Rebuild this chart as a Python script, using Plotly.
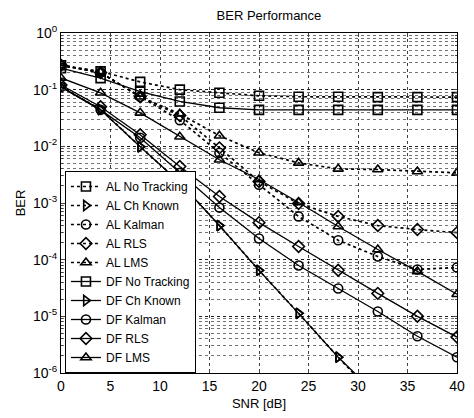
import plotly.graph_objects as go

snr = [0, 4, 8, 12, 16, 20, 24, 28, 32, 36, 40]

al_no_tracking = [0.27, 0.21, 0.137, 0.10, 0.088, 0.078, 0.075, 0.075, 0.074, 0.074, 0.074]
al_ch_known = [0.112, 0.045, 0.0098, 0.0023, 4.0e-4, 6.5e-5, 1.13e-5, 1.9e-6, 3.5e-7, None, None]
al_kalman = [0.27, 0.20, 0.075, 0.029, 0.0077, 0.0021, 5.8e-4, 2.2e-4, 1.14e-4, 6.7e-5, 7.3e-5]
al_rls = [0.27, 0.20, 0.075, 0.035, 0.0094, 0.0024, 9.8e-4, 5.8e-4, 4.0e-4, 3.4e-4, 3.0e-4]
al_lms = [0.27, 0.20, 0.075, 0.0375, 0.0154, 0.0077, 0.0051, 0.0040, 0.0039, 0.0036, 0.0034]

df_no_tracking = [0.24, 0.16, 0.092, 0.062, 0.048, 0.044, 0.044, 0.044, 0.044, 0.044, 0.044]
df_ch_known = [0.112, 0.044, 0.0098, 0.0023, 4.0e-4, 6.46e-5, 1.13e-5, 1.9e-6, 4.0e-7, None, None]
df_kalman = [0.112, 0.044, 0.0142, 0.0034, 8.3e-4, 2.36e-4, 7.9e-5, 3.1e-5, 1.22e-5, 4.45e-6, 1.9e-6]
df_rls = [0.121, 0.050, 0.016, 0.0044, 0.0013, 4.5e-4, 1.71e-4, 6.5e-5, 2.54e-5, 1.0e-5, 4.3e-6]
df_lms = [0.161, 0.088, 0.039, 0.0148, 0.0058, 0.0026, 0.00102, 3.85e-4, 1.51e-4, 6.2e-5, 2.45e-5]

y_tick_vals = [1e-6, 1e-5, 1e-4, 1e-3, 1e-2, 1e-1, 1]
y_tick_text = ["10<sup>-6</sup>", "10<sup>-5</sup>", "10<sup>-4</sup>", "10<sup>-3</sup>",
               "10<sup>-2</sup>", "10<sup>-1</sup>", "10<sup>0</sup>"]
x_tick_vals = [0, 5, 10, 15, 20, 25, 30, 35, 40]

series = [
    ("AL No Tracking", al_no_tracking, "square-open", "dot"),
    ("AL Ch Known", al_ch_known, "triangle-right-open", "dot"),
    ("AL Kalman", al_kalman, "circle-open", "dot"),
    ("AL RLS", al_rls, "diamond-open", "dot"),
    ("AL LMS", al_lms, "triangle-up-open", "dot"),
    ("DF No Tracking", df_no_tracking, "square-open", "solid"),
    ("DF Ch Known", df_ch_known, "triangle-right-open", "solid"),
    ("DF Kalman", df_kalman, "circle-open", "solid"),
    ("DF RLS", df_rls, "diamond-open", "solid"),
    ("DF LMS", df_lms, "triangle-up-open", "solid"),
]

FONT = "Liberation Sans, Arial, sans-serif"

fig = go.Figure()
for name, vals, sym, dash in series:
    fig.add_trace(go.Scatter(
        x=snr, y=vals, name=name, mode="lines+markers",
        line=dict(color="black", width=1.7 if dash == "dot" else 1.3, dash=dash),
        marker=dict(symbol=sym, size=9, color="black", line=dict(color="black", width=1.6)),
        connectgaps=False,
    ))

grid_color = "rgba(0,0,0,0.75)"
# page body has an 8px default margin, so the figure is 8px smaller and margins shifted
fig.update_layout(
    width=466, height=410,
    margin=dict(l=53, r=9, t=25, b=44),
    paper_bgcolor="white", plot_bgcolor="white",
    font=dict(family=FONT, size=13, color="black"),
    title=dict(text="BER Performance", x=0.56, xanchor="center", y=0.983, yanchor="middle",
               font=dict(size=13)),
    showlegend=True,
    legend=dict(x=0.01, y=0.0, xanchor="left", yanchor="bottom",
                bgcolor="white", bordercolor="black", borderwidth=1,
                font=dict(size=12), tracegroupgap=0, itemwidth=30),
    xaxis=dict(
        range=[0, 40], tickvals=x_tick_vals, ticks="inside", ticklen=4,
        showline=True, linecolor="black", linewidth=1, mirror="ticks",
        showgrid=True, gridcolor=grid_color, griddash="dot", gridwidth=1,
        zeroline=False, tickfont=dict(size=14),
        title=dict(text="SNR [dB]", font=dict(size=13), standoff=6),
    ),
    yaxis=dict(
        type="log", range=[-6, 0], tickvals=y_tick_vals, ticktext=y_tick_text,
        ticks="inside", ticklen=4,
        showline=True, linecolor="black", linewidth=1, mirror="ticks",
        showgrid=True, gridcolor=grid_color, griddash="dot", gridwidth=1,
        zeroline=False, tickfont=dict(size=14),
        minor=dict(dtick="D1", showgrid=True, gridcolor="rgba(0,0,0,0.55)", griddash="dot",
                   ticks="inside", ticklen=2),
        title=dict(text="BER", font=dict(size=13), standoff=4),
    ),
)

fig.write_html("out.html", config={"displayModeBar": False})
